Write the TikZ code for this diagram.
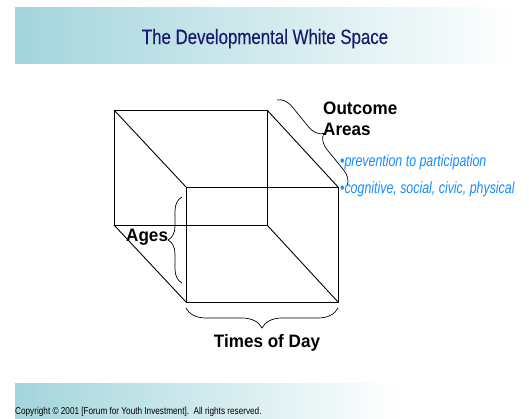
\documentclass[tikz,border=0pt]{standalone}
\usepackage{fontspec}
\setmainfont{Liberation Sans}
\newfontfamily\narrowfont[FakeStretch=0.82]{Liberation Sans}
\newfontfamily\titlefont[FakeStretch=0.81,FakeBold=0.25]{Liberation Sans}
\newfontfamily\labelfont[FakeStretch=0.95]{Liberation Sans}
\newfontfamily\notefont[FakeStretch=0.76]{Liberation Sans}
\usetikzlibrary{decorations.pathreplacing}

\definecolor{bandteal}{RGB}{163,213,220}
\definecolor{titlenavy}{RGB}{26,26,110}
\definecolor{noteblue}{RGB}{20,140,255}

\tikzset{
    edge/.style={line width=0.9pt},
    curly/.style={decorate,decoration={brace,amplitude=#1},line width=0.7pt},
    axislabel/.style={font=\labelfont\fontsize{18}{21}\selectfont\bfseries,inner sep=0pt},
    note/.style={font=\notefont\fontsize{16.3}{19}\selectfont\itshape,text=noteblue,inner sep=0pt,anchor=base west},
}

\begin{document}
\begin{tikzpicture}[x=1pt,y=-1pt]
    \useasboundingbox (0,0) rectangle (529,418);
    % header and footer bands
    \shade[left color=bandteal,right color=white] (15,7) rectangle (515,63);
    \shade[left color=bandteal,right color=white] (15,383) rectangle (400,418);
    \node[font=\titlefont\fontsize{20.8}{24}\selectfont,text=titlenavy,inner sep=0pt,anchor=base] (title) at (265,44) {The Developmental White Space};
    \node[font=\narrowfont\fontsize{10}{12}\selectfont,inner sep=0pt,anchor=base west] (copy) at (15,414) {Copyright \textcopyright{} 2001 [Forum for Youth Investment].\ \ All rights reserved.};

    % back face
    \coordinate (b1) at (114,110);
    \coordinate (b2) at (267,110);
    \coordinate (b3) at (267,225);
    \coordinate (b4) at (114,225);
    % front face
    \coordinate (f1) at (186,187);
    \coordinate (f2) at (338,187);
    \coordinate (f3) at (338,302);
    \coordinate (f4) at (186,302);
    \draw[edge] (b1) -- (b2) -- (b3) -- (b4) -- cycle;
    \draw[edge] (f1) -- (f2) -- (f3) -- (f4) -- cycle;
    \foreach \i in {1,...,4}
        \draw[edge] (b\i) -- (f\i);

    % braces
    \coordinate (oa1) at (277,100);
    \coordinate (oa2) at (347,186);
    \coordinate (ag1) at (182,283);
    \coordinate (ag2) at (182,197);
    \coordinate (td1) at (338,308);
    \coordinate (td2) at (186,308);
    \draw[curly=15] (oa1) -- (oa2);
    \draw[curly=14] (ag1) -- (ag2);
    \draw[curly=20] (td1) -- (td2);

    \node[axislabel,anchor=base west,align=left] (outcome) at (323,135) {Outcome\\Areas};
    \node[axislabel,anchor=base west] (ages) at (126,241) {Ages};
    \node[axislabel,anchor=base] (times) at (267,347) {Times of Day};
    \node[note] (prev) at (340,166) {\textbullet prevention to participation};
    \node[note] (cogn) at (340,193) {\textbullet cognitive, social, civic, physical};
\end{tikzpicture}
\end{document}
